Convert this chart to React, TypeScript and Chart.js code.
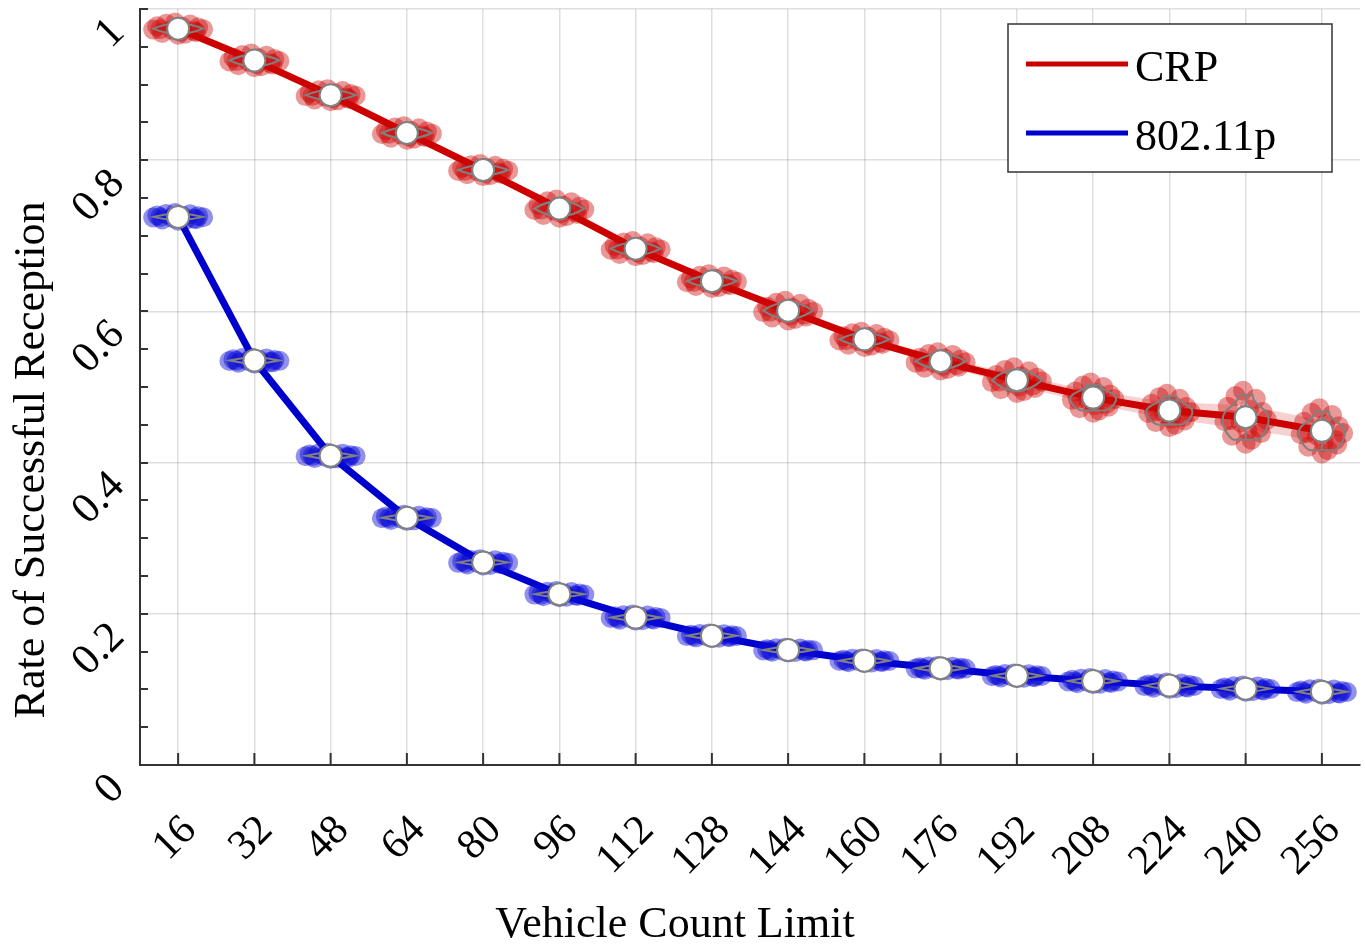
import React, { useEffect, useRef } from 'react';
import { Chart, registerables } from 'chart.js';

Chart.register(...registerables);

// ---------------- data ----------------
const vehicleCounts = ['16', '32', '48', '64', '80', '96', '112', '128', '144', '160', '176', '192', '208', '224', '240', '256'];
const crpMean = [0.974, 0.932, 0.886, 0.836, 0.787, 0.736, 0.683, 0.640, 0.601, 0.563, 0.534, 0.509, 0.486, 0.469, 0.460, 0.442];
const p80211Mean = [0.725, 0.535, 0.409, 0.327, 0.268, 0.226, 0.195, 0.171, 0.152, 0.138, 0.128, 0.118, 0.111, 0.105, 0.101, 0.097];
// half range of the per-run samples (the scattered dots / violins)
const crpSpread = [0.008, 0.009, 0.008, 0.009, 0.008, 0.012, 0.010, 0.009, 0.013, 0.010, 0.012, 0.017, 0.020, 0.022, 0.035, 0.030];
const p80211Spread = [0.005, 0.004, 0.004, 0.004, 0.004, 0.004, 0.004, 0.003, 0.003, 0.003, 0.003, 0.003, 0.004, 0.004, 0.004, 0.004];
// confidence band half-width around the mean line
const crpCI = [0.003, 0.003, 0.003, 0.003, 0.003, 0.004, 0.004, 0.004, 0.005, 0.005, 0.006, 0.007, 0.009, 0.011, 0.016, 0.014];
const p80211CI = [0.002, 0.002, 0.002, 0.002, 0.002, 0.002, 0.002, 0.002, 0.002, 0.002, 0.002, 0.002, 0.002, 0.002, 0.002, 0.002];
const seriesNames = ['CRP', '802.11p'];
const xTitle = 'Vehicle Count Limit';
const yTitle = 'Rate of Successful Reception';

// ---------------- style ----------------
const FONT = '"Liberation Serif", "Times New Roman", serif';
const RED = 'rgb(204,0,0)';
const BLUE = 'rgb(0,0,204)';
const GRID = 'rgba(0,0,0,0.13)';
const AXIS = '#333333';
// decorative jitter pattern for the sample dots: [dx px, dy as fraction of spread]
const CLOUD: [number, number][] = [
  [-25, 0.15], [-21, -0.4], [-16, 0.7], [-12, -0.8], [-6, 0.2], [-3, -1], [0, 1], [4, -0.3],
  [7, 0.85], [12, -0.7], [16, 0.4], [20, -0.2], [25, 0.1], [-18, 0.1], [18, 0.6], [2, 0.5],
];

const decorPlugin = {
  id: 'decor',
  beforeDraw(chart: any) {
    chart.$cloudsDone = false;
  },
  beforeDatasetDraw(chart: any, args: any) {
    const ds = chart.data.datasets[args.index];
    if (!ds.isMarker || chart.$cloudsDone) return;
    chart.$cloudsDone = true;
    const ctx = chart.ctx;
    const yS = chart.scales.y;
    chart.data.datasets.forEach((d: any, di: number) => {
      if (!d.spread) return;
      const meta = chart.getDatasetMeta(di);
      ctx.save();
      meta.data.forEach((pt: any, j: number) => {
        const sp = yS.getPixelForValue(0) - yS.getPixelForValue(d.spread[j]);
        ctx.fillStyle = d.cloudColor;
        CLOUD.forEach(([dx, f]) => {
          const narrow = sp > 15 ? 0.85 : 1;
          ctx.beginPath();
          ctx.arc(pt.x + dx * narrow, pt.y + f * sp, 10, 0, Math.PI * 2);
          ctx.fill();
        });
      });
      ctx.strokeStyle = 'rgb(128,128,128)';
      ctx.lineWidth = 2;
      meta.data.forEach((pt: any, j: number) => {
        const sp = yS.getPixelForValue(0) - yS.getPixelForValue(d.spread[j]);
        const hh = Math.max(3, sp * 0.85);
        const cx = pt.x, cy = pt.y;
        ctx.beginPath();
        if (hh < 12) {
          const w = 25;
          ctx.moveTo(cx - w, cy);
          ctx.quadraticCurveTo(cx, cy - hh * 2, cx + w, cy);
          ctx.quadraticCurveTo(cx, cy + hh * 2, cx - w, cy);
          ctx.closePath();
          ctx.stroke();
        } else {
          const w = 23;
          ctx.moveTo(cx - 0.3 * w, cy - hh);
          ctx.lineTo(cx + 0.3 * w, cy - hh);
          ctx.bezierCurveTo(cx + 0.3 * w, cy - hh * 0.5, cx + w, cy - hh * 0.45, cx + w, cy + hh * 0.1);
          ctx.bezierCurveTo(cx + w, cy + hh * 0.6, cx + 0.6 * w, cy + hh, cx + 0.5 * w, cy + hh);
          ctx.lineTo(cx - 0.5 * w, cy + hh);
          ctx.bezierCurveTo(cx - 0.6 * w, cy + hh, cx - w, cy + hh * 0.6, cx - w, cy + hh * 0.1);
          ctx.bezierCurveTo(cx - w, cy - hh * 0.45, cx - 0.3 * w, cy - hh * 0.5, cx - 0.3 * w, cy - hh);
          ctx.closePath();
          ctx.stroke();
          ctx.beginPath();
          ctx.moveTo(cx, cy - hh);
          ctx.lineTo(cx, cy + hh);
          ctx.stroke();
        }
      });
      ctx.restore();
    });
  },
  afterDraw(chart: any) {
    const ctx = chart.ctx;
    const ca = chart.chartArea;
    const xS = chart.scales.x;
    const yS = chart.scales.y;
    ctx.save();
    // inward ticks
    ctx.strokeStyle = AXIS;
    ctx.lineWidth = 2;
    ctx.beginPath();
    for (let k = 1; k <= 20; k++) {
      const y = Math.round(yS.getPixelForValue(k * 0.05));
      ctx.moveTo(ca.left, y);
      ctx.lineTo(ca.left + 8, y);
    }
    vehicleCounts.forEach((_, i) => {
      const x = xS.getPixelForValue(i);
      ctx.moveTo(x, ca.bottom);
      ctx.lineTo(x, ca.bottom - 12);
    });
    ctx.stroke();

    // legend
    const lines = chart.data.datasets.filter((d: any) => d.isLine);
    const bx = ca.right - 352, by = ca.top + 15, bw = 324, bh = 148;
    ctx.fillStyle = '#ffffff';
    ctx.fillRect(bx, by, bw, bh);
    ctx.strokeStyle = AXIS;
    ctx.lineWidth = 1.5;
    ctx.strokeRect(bx, by, bw, bh);
    lines.forEach((d: any, i: number) => {
      const ly = by + 40 + i * 69;
      ctx.strokeStyle = d.borderColor;
      ctx.lineWidth = 5;
      ctx.beginPath();
      ctx.moveTo(bx + 18, ly);
      ctx.lineTo(bx + 120, ly);
      ctx.stroke();
      ctx.fillStyle = '#000';
      ctx.font = `44px ${FONT}`;
      ctx.textAlign = 'left';
      ctx.textBaseline = 'alphabetic';
      ctx.fillText(d.label, bx + 127, ly + 17);
    });

    // axis titles
    ctx.fillStyle = '#000';
    ctx.font = `44px ${FONT}`;
    ctx.textAlign = 'center';
    ctx.textBaseline = 'alphabetic';
    ctx.fillText(xTitle, 675, 937);
    ctx.translate(44, 460);
    ctx.rotate(-Math.PI / 2);
    ctx.fillText(yTitle, 0, 0);
    ctx.restore();
  },
};

export default function App() {
  const ref = useRef<HTMLCanvasElement | null>(null);
  useEffect(() => {
    document.body.style.margin = '0';
    const canvas = ref.current!;
    const band = (mean: number[], ci: number[], sign: number) => mean.map((m, i) => m + sign * ci[i]);
    const chart = new Chart(canvas, {
      type: 'line',
      data: {
        labels: vehicleCounts,
        datasets: [
          { label: 'CRP hi', data: band(crpMean, crpCI, 1), borderWidth: 0, pointRadius: 0, fill: false, order: 5 } as any,
          { label: 'CRP lo', data: band(crpMean, crpCI, -1), borderWidth: 0, pointRadius: 0, fill: '-1', backgroundColor: 'rgba(204,0,0,0.18)', order: 5 } as any,
          { label: '802 hi', data: band(p80211Mean, p80211CI, 1), borderWidth: 0, pointRadius: 0, fill: false, order: 5 } as any,
          { label: '802 lo', data: band(p80211Mean, p80211CI, -1), borderWidth: 0, pointRadius: 0, fill: '-1', backgroundColor: 'rgba(0,0,204,0.18)', order: 5 } as any,
          { label: seriesNames[0], data: crpMean, borderColor: RED, borderWidth: 7, pointRadius: 0, tension: 0, order: 3, isLine: true, spread: crpSpread, cloudColor: 'rgba(206,8,8,0.42)' } as any,
          { label: seriesNames[1], data: p80211Mean, borderColor: BLUE, borderWidth: 7, pointRadius: 0, tension: 0, order: 3, isLine: true, spread: p80211Spread, cloudColor: 'rgba(10,10,215,0.45)' } as any,
          { label: 'CRP mean', data: crpMean, showLine: false, pointRadius: 11, pointBackgroundColor: '#ffffff', pointBorderColor: 'rgb(128,128,128)', pointBorderWidth: 2, order: 1, isMarker: true } as any,
          { label: '802.11p mean', data: p80211Mean, showLine: false, pointRadius: 11, pointBackgroundColor: '#ffffff', pointBorderColor: 'rgb(128,128,128)', pointBorderWidth: 2, order: 1, isMarker: true } as any,
        ],
      },
      options: {
        animation: false,
        responsive: false,
        events: [],
        layout: { autoPadding: false, padding: { top: 9, right: 5, left: 0, bottom: 0 } },
        plugins: { legend: { display: false }, tooltip: { enabled: false } },
        scales: {
          x: {
            type: 'category',
            offset: true,
            grid: { offset: false, color: GRID, lineWidth: 1.5, drawTicks: false },
            border: { color: AXIS, width: 2 },
            ticks: {
              font: { family: FONT, size: 42 },
              color: '#000',
              minRotation: 45,
              maxRotation: 45,
              autoSkip: false,
              padding: 41,
              labelOffset: 12,
            },
            afterFit(s: any) { s.height = 181; s.paddingLeft = 0; s.paddingRight = 0; },
          },
          y: {
            min: 0,
            max: 1,
            grid: { color: GRID, lineWidth: 1.5, drawTicks: false },
            border: { color: AXIS, width: 2 },
            ticks: {
              stepSize: 0.2,
              font: { family: FONT, size: 43 },
              color: '#000',
              minRotation: 45,
              maxRotation: 45,
              padding: 22,
              labelOffset: 17,
              callback: (v: number) => (v === 0 || v === 1 ? String(v) : v.toFixed(1)),
            },
            afterFit(s: any) { s.width = 140; s.paddingTop = 0; s.paddingBottom = 0; },
          },
        },
      } as any,
      plugins: [decorPlugin],
    });
    return () => chart.destroy();
  }, []);
  return <canvas ref={ref} width={1365} height={946} style={{ display: 'block' }} />;
}
